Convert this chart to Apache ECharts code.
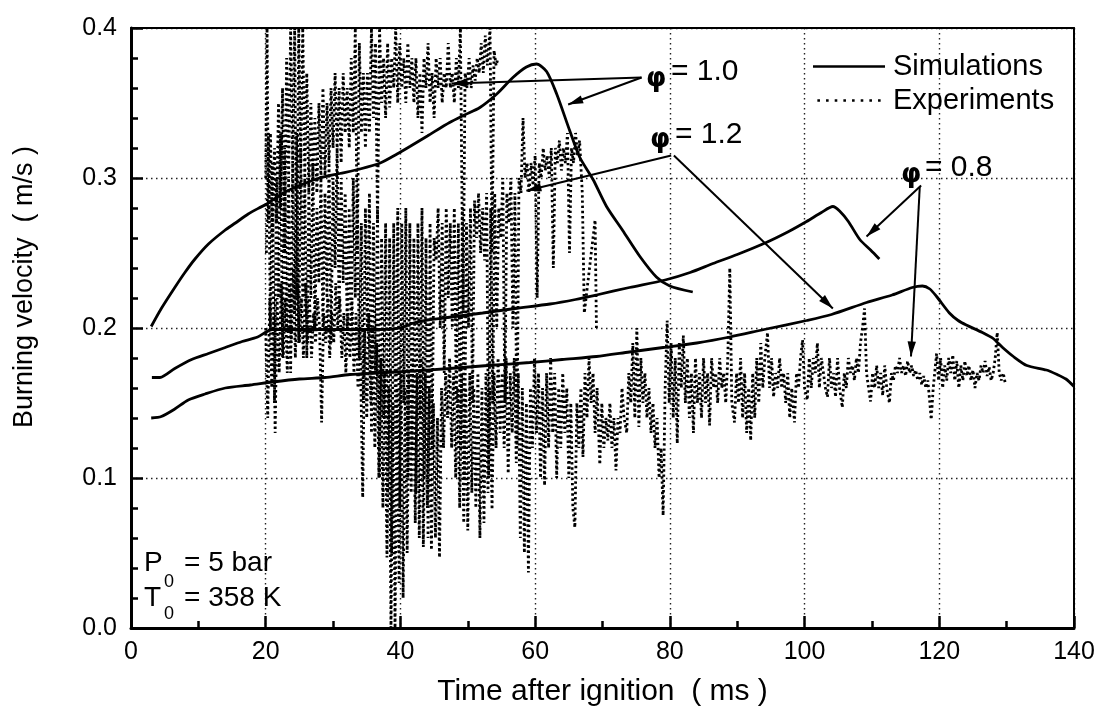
<!DOCTYPE html>
<html><head><meta charset="utf-8">
<script src="https://cdn.jsdelivr.net/npm/echarts@6/dist/echarts.min.js"></script>
<style>html,body{margin:0;padding:0;background:#fff}#c{width:1103px;height:712px}</style>
</head><body><div id="c"></div>
<script>
// ---- axis ranges / ticks ----
const xRange = [0, 140];
const xTickStep = 20;
const yRange = [0, 0.4];
const yTickStep = 0.1;
const xTitle = 'Time after ignition  ( ms )';
const yTitle = 'Burning velocity  ( m/s )';
const legendNames = ['Simulations', 'Experiments'];

// ---- simulations (solid) ----
const simPhi10 = [[3.0,0.201],[4.5,0.213],[6.5,0.227],[8.0,0.237],[9.5,0.246],[11.5,0.256],[13.9,0.265],[15.5,0.270],[17.4,0.276],[19.0,0.280],[20.3,0.283],[22.6,0.290],[25,0.295],[28,0.300],[31,0.303],[34,0.306],[37,0.310],[39.5,0.316],[41.4,0.321],[44,0.328],[47.3,0.337],[49.5,0.342],[51.8,0.347],[54.3,0.356],[56.7,0.367],[58.7,0.374],[60.2,0.376],[61.7,0.371],[63.2,0.356],[65.1,0.332],[66.6,0.314],[68.6,0.299],[70.6,0.281],[73.0,0.265],[75.5,0.248],[78.0,0.234],[80.0,0.228],[83.4,0.224]];
const simPhi08 = [[3.1,0.167],[4.3,0.167],[6.5,0.173],[9,0.179],[11.5,0.183],[14,0.187],[16.5,0.191],[18.8,0.194],[21,0.199],[25,0.199],[28.8,0.199],[33,0.199],[37,0.199],[39.9,0.200],[42.4,0.204],[47,0.207],[52.2,0.210],[57,0.213],[62.2,0.216],[66,0.219],[69.1,0.222],[74,0.227],[79.3,0.232],[83,0.237],[86.4,0.243],[90,0.249],[94.3,0.257],[97.5,0.264],[100.3,0.271],[102.5,0.277],[104.2,0.281],[105.2,0.278],[106.5,0.271],[108.2,0.259],[109.8,0.252],[111.1,0.246]];
const simPhi12 = [[3.0,0.140],[4.5,0.141],[6.5,0.146],[8.5,0.152],[11,0.156],[14,0.160],[17.7,0.162],[21,0.164],[25,0.166],[28.8,0.167],[32.5,0.169],[36.5,0.170],[40.7,0.171],[47.3,0.173],[53,0.175],[59.2,0.177],[64,0.179],[69.1,0.181],[74,0.184],[79,0.187],[84,0.190],[88.9,0.194],[94,0.199],[100.3,0.205],[104,0.209],[109.2,0.217],[113,0.222],[116,0.227],[117.5,0.228],[118.6,0.226],[119.6,0.221],[121.5,0.210],[122.8,0.205],[124,0.202],[126.4,0.197],[128,0.193],[129.4,0.187],[131,0.181],[133,0.175],[135.9,0.172],[137.5,0.169],[138.8,0.166],[140,0.161]];

// ---- experiments (dotted) ----
const expPhi10 = [[20.0,0.30],[20.2,0.40],[20.4,0.27],[20.7,0.33],[21.0,0.26],[21.3,0.32],[21.6,0.27],[21.9,0.35],[22.2,0.28],[22.5,0.36],[22.8,0.25],[23.1,0.38],[23.4,0.30],[23.7,0.40],[24.0,0.31],[24.3,0.40],[24.6,0.22],[24.9,0.40],[25.2,0.31],[25.5,0.40],[25.8,0.30],[26.1,0.37],[26.4,0.29],[26.7,0.35],[27.0,0.30],[27.3,0.34],[27.6,0.29],[27.9,0.35],[28.2,0.30],[28.5,0.36],[28.8,0.30],[29.1,0.35],[29.4,0.31],[29.7,0.36],[30.0,0.32],[30.3,0.37],[30.6,0.32],[30.9,0.36],[31.2,0.31],[31.5,0.37],[31.8,0.33],[32.1,0.36],[32.4,0.32],[32.7,0.38],[33.0,0.33],[33.3,0.40],[33.6,0.25],[33.9,0.39],[34.2,0.33],[34.5,0.37],[34.8,0.32],[35.1,0.37],[35.4,0.33],[35.7,0.40],[36.0,0.34],[36.3,0.39],[36.6,0.27],[36.9,0.40],[37.2,0.35],[37.5,0.38],[37.8,0.34],[38.1,0.39],[38.4,0.347],[38.7,0.38],[39.0,0.36],[39.3,0.40],[39.6,0.35],[39.9,0.39],[40.2,0.36],[40.5,0.38],[40.8,0.35],[41.1,0.39],[41.4,0.36],[41.7,0.38],[42.0,0.35],[42.3,0.38],[42.6,0.34],[42.9,0.37],[43.2,0.33],[43.5,0.38],[43.8,0.36],[44.1,0.39],[44.4,0.35],[44.7,0.37],[45.0,0.34],[45.3,0.38],[45.6,0.36],[45.9,0.38],[46.2,0.35],[46.5,0.37],[46.8,0.36],[47.1,0.39],[47.4,0.36],[47.7,0.37],[48.0,0.35],[48.3,0.38],[48.6,0.36],[48.9,0.40],[49.3,0.21],[49.6,0.37],[49.9,0.36],[50.2,0.38],[50.5,0.36],[50.8,0.375],[51.1,0.365],[51.4,0.38],[51.7,0.37],[52.0,0.39],[52.3,0.37],[52.6,0.395],[52.9,0.375],[53.3,0.40],[53.6,0.25],[53.9,0.385],[54.2,0.375],[54.5,0.38]];
const expPhi12 = [[20.1,0.25],[20.4,0.33],[20.7,0.20],[21.0,0.31],[21.3,0.15],[21.6,0.30],[21.9,0.22],[22.2,0.33],[22.5,0.18],[22.8,0.32],[23.1,0.20],[23.4,0.30],[23.7,0.17],[24.0,0.31],[24.3,0.21],[24.6,0.33],[24.9,0.19],[25.2,0.32],[25.5,0.22],[25.8,0.30],[26.1,0.18],[26.4,0.29],[26.7,0.22],[27.0,0.31],[27.3,0.20],[27.6,0.28],[27.9,0.23],[28.2,0.30],[28.5,0.20],[28.8,0.29],[29.1,0.22],[29.4,0.31],[29.7,0.19],[30.0,0.30],[30.3,0.24],[30.6,0.32],[30.9,0.21],[31.2,0.30],[31.5,0.23],[31.8,0.29],[32.1,0.20],[32.4,0.28],[32.7,0.19],[33.0,0.30],[33.3,0.22],[33.6,0.29],[33.9,0.18],[34.2,0.27],[34.5,0.15],[34.8,0.28],[35.1,0.20],[35.4,0.29],[35.7,0.13],[36.0,0.27],[36.3,0.17],[36.6,0.28],[36.9,0.10],[37.2,0.26],[37.5,0.14],[37.8,0.27],[38.1,0.09],[38.4,0.26],[38.7,0.05],[39.0,0.27],[39.3,0.12],[39.6,0.28],[39.9,0.08],[40.2,0.27],[40.5,0.15],[40.8,0.28],[41.1,0.10],[41.4,0.27],[41.7,0.12],[42.0,0.26],[42.3,0.09],[42.6,0.27],[42.9,0.14],[43.2,0.28],[43.5,0.10],[43.8,0.26],[44.1,0.06],[44.4,0.27],[44.7,0.12],[45.0,0.26],[45.3,0.245],[45.6,0.28],[45.9,0.20],[46.2,0.27],[46.5,0.17],[46.8,0.28],[47.1,0.22],[47.4,0.27],[47.7,0.20],[48.0,0.28],[48.3,0.15],[48.6,0.27],[48.9,0.12],[49.2,0.28],[49.5,0.10],[49.8,0.27],[50.1,0.20],[50.4,0.28],[50.7,0.15],[51.0,0.285],[51.3,0.26],[51.6,0.29],[51.9,0.25],[52.2,0.28],[52.5,0.245],[52.8,0.29],[53.1,0.10],[53.4,0.28],[53.7,0.15],[54.0,0.29],[54.3,0.20],[54.6,0.28],[54.9,0.26],[55.2,0.30],[55.5,0.15],[55.8,0.29],[56.1,0.27],[56.4,0.30],[56.7,0.20],[57.0,0.29],[57.3,0.12],[57.6,0.30],[57.9,0.29],[58.2,0.34],[58.5,0.30],[58.8,0.31],[59.1,0.29],[59.4,0.31],[59.7,0.295],[60.0,0.315],[60.3,0.22],[60.6,0.31],[60.9,0.30],[61.2,0.32],[61.5,0.305],[61.8,0.315],[62.1,0.30],[62.4,0.32],[62.7,0.24],[63.0,0.32],[63.3,0.31],[63.6,0.325],[63.9,0.305],[64.2,0.32],[64.5,0.31],[64.8,0.33],[65.1,0.25],[65.4,0.32],[65.7,0.31],[66.0,0.33],[66.3,0.315],[66.6,0.325],[67.0,0.29],[67.3,0.21],[68.9,0.272],[69.1,0.20]];
const expPhi08 = [[20.0,0.20],[20.3,0.14],[20.6,0.22],[20.9,0.16],[21.2,0.21],[21.4,0.13],[21.7,0.22],[22.0,0.17],[22.3,0.23],[22.6,0.18],[22.9,0.22],[23.2,0.17],[23.5,0.23],[23.8,0.19],[24.1,0.24],[24.4,0.18],[24.7,0.23],[25.0,0.19],[25.3,0.22],[25.6,0.18],[25.9,0.23],[26.2,0.19],[26.5,0.22],[26.8,0.18],[27.1,0.21],[27.4,0.19],[27.7,0.22],[28.0,0.20],[28.3,0.137],[28.6,0.21],[28.9,0.19],[29.2,0.22],[29.5,0.18],[29.8,0.21],[30.1,0.19],[30.4,0.23],[30.7,0.20],[31.0,0.22],[31.3,0.18],[31.6,0.21],[31.9,0.17],[32.2,0.21],[32.5,0.18],[32.8,0.22],[33.1,0.17],[33.4,0.21],[33.7,0.16],[34.0,0.20],[34.4,0.087],[34.7,0.20],[35.0,0.14],[35.3,0.21],[35.6,0.15],[35.9,0.20],[36.2,0.12],[36.5,0.19],[36.8,0.10],[37.1,0.18],[37.4,0.08],[37.7,0.17],[38.0,0.047],[38.3,0.16],[38.6,0.0],[38.9,0.15],[39.2,0.0],[39.5,0.16],[39.8,0.03],[40.1,0.17],[40.4,0.02],[40.7,0.16],[41.0,0.05],[41.3,0.17],[41.6,0.09],[41.9,0.18],[42.2,0.07],[42.5,0.17],[42.8,0.06],[43.1,0.18],[43.4,0.054],[43.7,0.17],[44.0,0.08],[44.3,0.16],[44.6,0.052],[44.9,0.15],[45.2,0.06],[45.5,0.14],[45.8,0.047],[46.1,0.16],[46.4,0.12],[46.7,0.17],[47.0,0.14],[47.3,0.18],[47.6,0.12],[47.9,0.17],[48.2,0.10],[48.5,0.16],[48.8,0.08],[49.1,0.17],[49.4,0.07],[49.7,0.16],[50.0,0.065],[50.3,0.17],[50.6,0.09],[50.9,0.16],[51.2,0.08],[51.5,0.17],[51.8,0.06],[52.1,0.16],[52.4,0.07],[52.7,0.17],[53.0,0.09],[53.3,0.16],[53.6,0.079],[53.9,0.17],[54.2,0.12],[54.5,0.18],[54.8,0.13],[55.1,0.17],[55.4,0.12],[55.7,0.18],[56.0,0.103],[56.3,0.17],[56.6,0.13],[56.9,0.18],[57.2,0.11],[57.5,0.17],[57.8,0.06],[58.1,0.16],[58.4,0.05],[58.7,0.15],[59.0,0.037],[59.3,0.16],[59.6,0.12],[59.9,0.18],[60.2,0.13],[60.5,0.17],[60.8,0.10],[61.1,0.16],[61.4,0.095],[61.7,0.17],[62.0,0.12],[62.3,0.18],[62.6,0.13],[62.9,0.17],[63.2,0.10],[63.5,0.16],[63.8,0.12],[64.1,0.17],[64.4,0.13],[64.7,0.16],[65.0,0.10],[65.3,0.15],[65.6,0.08],[65.9,0.067],[66.2,0.15],[66.5,0.12],[66.8,0.16],[67.1,0.114],[67.4,0.17],[67.7,0.14],[68.0,0.18],[68.3,0.15],[68.6,0.17],[68.9,0.13],[69.2,0.16],[69.6,0.109],[69.9,0.15],[70.2,0.12],[70.5,0.14],[70.8,0.125],[71.1,0.15],[71.4,0.12],[71.7,0.14],[72.0,0.105],[72.3,0.14],[72.6,0.13],[72.9,0.16],[73.2,0.14],[73.6,0.13],[73.9,0.17],[74.2,0.15],[74.5,0.19],[74.8,0.14],[75.1,0.20],[75.4,0.134],[75.7,0.18],[76.0,0.15],[76.3,0.17],[76.6,0.14],[76.9,0.16],[77.2,0.13],[77.5,0.15],[77.8,0.12],[78.1,0.14],[78.4,0.10],[78.7,0.12],[79.0,0.075],[79.3,0.16],[79.6,0.205],[79.9,0.15],[80.2,0.19],[80.5,0.14],[80.8,0.18],[81.1,0.123],[81.4,0.19],[81.7,0.16],[82.0,0.195],[82.3,0.15],[82.6,0.18],[82.9,0.14],[83.2,0.17],[83.5,0.13],[83.8,0.18],[84.1,0.15],[84.4,0.17],[84.7,0.14],[85.0,0.18],[85.3,0.15],[85.6,0.17],[85.9,0.135],[86.2,0.18],[86.5,0.16],[86.8,0.17],[87.1,0.15],[87.4,0.18],[87.7,0.16],[88.0,0.17],[88.3,0.15],[88.6,0.18],[88.9,0.24],[89.2,0.15],[89.6,0.137],[89.9,0.17],[90.2,0.15],[90.5,0.18],[90.8,0.14],[91.1,0.17],[91.4,0.13],[91.7,0.16],[92.0,0.125],[92.3,0.17],[92.6,0.14],[92.9,0.18],[93.2,0.15],[93.5,0.19],[93.8,0.16],[94.1,0.18],[94.5,0.197],[94.8,0.16],[95.1,0.18],[95.4,0.154],[95.7,0.17],[96.0,0.16],[96.3,0.18],[96.6,0.16],[96.9,0.17],[97.2,0.15],[97.5,0.17],[97.8,0.14],[98.1,0.16],[98.5,0.137],[98.8,0.17],[99.1,0.16],[99.4,0.18],[99.7,0.192],[100.0,0.16],[100.4,0.152],[100.7,0.18],[101.0,0.16],[101.3,0.18],[101.6,0.17],[101.9,0.19],[102.2,0.16],[102.5,0.18],[102.8,0.17],[103.1,0.16],[103.4,0.154],[103.7,0.18],[104.0,0.16],[104.3,0.17],[104.6,0.154],[104.9,0.18],[105.2,0.16],[105.6,0.147],[105.9,0.17],[106.2,0.16],[106.5,0.18],[106.8,0.17],[107.1,0.175],[107.4,0.165],[107.7,0.18],[108.0,0.17],[108.3,0.19],[108.6,0.20],[108.9,0.213],[109.2,0.17],[109.5,0.16],[109.8,0.151],[110.1,0.17],[110.4,0.16],[110.7,0.175],[111.0,0.16],[111.3,0.17],[111.6,0.155],[111.9,0.175],[112.2,0.16],[112.6,0.15],[112.9,0.17],[113.2,0.165],[113.5,0.175],[113.8,0.17],[114.1,0.18],[114.4,0.17],[114.7,0.175],[115.0,0.168],[115.3,0.178],[115.6,0.17],[115.9,0.175],[116.2,0.168],[116.5,0.172],[116.8,0.165],[117.1,0.17],[117.4,0.162],[117.7,0.168],[118.0,0.16],[118.3,0.165],[118.6,0.15],[118.8,0.139],[119.1,0.16],[119.6,0.183],[119.9,0.165],[120.2,0.18],[120.5,0.16],[120.8,0.175],[121.1,0.165],[121.4,0.18],[121.7,0.17],[122.0,0.182],[122.3,0.165],[122.6,0.178],[122.9,0.16],[123.2,0.175],[123.5,0.165],[123.8,0.178],[124.1,0.168],[124.4,0.175],[124.7,0.165],[125.0,0.172],[125.3,0.16],[125.6,0.17],[125.9,0.165],[126.2,0.175],[126.5,0.17],[126.8,0.178],[127.1,0.168],[127.4,0.174],[127.7,0.165],[128.0,0.17],[128.3,0.18],[128.6,0.197],[128.9,0.17],[129.2,0.165],[129.5,0.17],[129.8,0.163]];

// ---- annotation arrows (data coords: from label -> to target) ----
const arrowsPhi10 = [[[75.8,0.367],[47.6,0.363]],[[75.8,0.367],[64.9,0.349]]];
const arrowsPhi12 = [[[80.2,0.315],[58.7,0.2915]],[[80.6,0.315],[104.2,0.213]]];
const arrowsPhi08 = [[[117.3,0.295],[109.2,0.261]],[[117.1,0.294],[115.8,0.181]]];

const FONT = '"Liberation Sans", Arial, Helvetica, sans-serif';
const BLACK = '#000';

const chart = echarts.init(document.getElementById('c'), null, {renderer: 'canvas'});

const allArrows = [].concat(arrowsPhi10, arrowsPhi12, arrowsPhi08);
const arrowData = allArrows.map(a => [{coord: a[0]}, {coord: a[1]}]);

const simStyle = {color: BLACK, width: 2.8};
const expStyle = {color: BLACK, width: 2.8, type: [2.4, 2.8]};

function simSeries(data, extra) {
  return Object.assign({type: 'line', name: 'Simulations', data: data, symbol: 'none', smooth: 0.25, lineStyle: simStyle, itemStyle: {color: BLACK}, z: 5, silent: true}, extra || {});
}
function expSeries(data) {
  return {type: 'line', name: 'Experiments', data: data, symbol: 'none', smooth: false, lineStyle: expStyle, itemStyle: {color: BLACK}, z: 3, silent: true};
}

function txt(x, y, text, size, align, family, weight) {
  return {type: 'text', x: x, y: y, silent: true, z: 100,
    style: {text: text, fill: BLACK, font: (weight || 'normal') + ' ' + size + 'px ' + (family || FONT), align: align || 'left', verticalAlign: 'middle'}};
}

const dotIcon = 'path://M0,0h3v3h-3z M10,0h3v3h-3z M20,0h3v3h-3z M30,0h3v3h-3z M40,0h3v3h-3z M50,0h3v3h-3z M60,0h3v3h-3z M70,0h3v3h-3z';

const graphics = [
  // y axis title
  {type: 'text', x: 25, y: 287, rotation: Math.PI / 2, silent: true,
   style: {text: yTitle, fill: BLACK, font: '27px ' + FONT, align: 'center', verticalAlign: 'middle'}},
  // phi labels
  txt(646, 79, 'φ', 26, 'left', '"DejaVu Sans"', 'bold'), txt(671, 72, '= 1.0', 30),
  txt(650, 140, 'φ', 26, 'left', '"DejaVu Sans"', 'bold'), txt(675, 135, '= 1.2', 30),
  txt(901, 175, 'φ', 26, 'left', '"DejaVu Sans"', 'bold'), txt(925, 168, '= 0.8', 30),
  // initial conditions
  txt(144, 563, 'P', 28), txt(164, 582, '0', 18), txt(184, 563, '= 5 bar', 28),
  txt(144, 598, 'T', 28), txt(164, 614, '0', 18), txt(184, 598, '= 358 K', 28)
];

const option = {
  animation: false,
  backgroundColor: '#fff',
  grid: {left: 131, right: 29, top: 28, bottom: 84},
  legend: {
    show: true, orient: 'vertical', left: 808, top: 47, itemWidth: 72, itemHeight: 2.6, itemGap: 5,
    selectedMode: false,
    data: [{name: legendNames[0], icon: 'rect'}, {name: legendNames[1], icon: dotIcon}],
    itemStyle: {color: BLACK},
    textStyle: {fontSize: 29, fontFamily: FONT, color: BLACK, padding: [0, 0, 0, 3]}
  },
  xAxis: [{
    type: 'value', min: xRange[0], max: xRange[1], interval: xTickStep, position: 'bottom',
    name: xTitle, nameLocation: 'middle', nameGap: 49,
    nameTextStyle: {fontSize: 30, fontFamily: FONT, color: BLACK},
    axisLine: {show: true, onZero: false, lineStyle: {color: BLACK, width: 3}},
    axisTick: {show: true, inside: true, length: 12, lineStyle: {color: BLACK, width: 2.5}},
    minorTick: {show: true, splitNumber: 2, length: 7, lineStyle: {color: BLACK, width: 2.5}},
    axisLabel: {fontSize: 25, fontFamily: FONT, color: BLACK, margin: 12},
    splitLine: {show: true, lineStyle: {color: '#222', width: 1.4, type: [1.5, 3.5]}}
  }, {
    type: 'value', min: xRange[0], max: xRange[1], position: 'top',
    axisLine: {show: true, onZero: false, lineStyle: {color: BLACK, width: 2}},
    axisTick: {show: false}, axisLabel: {show: false}, splitLine: {show: false}
  }],
  yAxis: [{
    type: 'value', min: yRange[0], max: yRange[1], interval: yTickStep, position: 'left',
    axisLine: {show: true, onZero: false, lineStyle: {color: BLACK, width: 3}},
    axisTick: {show: true, inside: true, length: 12, lineStyle: {color: BLACK, width: 2.5}},
    minorTick: {show: true, splitNumber: 5, length: 7, lineStyle: {color: BLACK, width: 2.5}},
    axisLabel: {fontSize: 25, fontFamily: FONT, color: BLACK, margin: 14, formatter: v => v.toFixed(1)},
    splitLine: {show: true, lineStyle: {color: '#222', width: 1.4, type: [1.5, 3.5]}}
  }, {
    type: 'value', min: yRange[0], max: yRange[1], position: 'right',
    axisLine: {show: true, onZero: false, lineStyle: {color: BLACK, width: 2}},
    axisTick: {show: false}, axisLabel: {show: false}, splitLine: {show: false}
  }],
  series: [
    expSeries(expPhi08),
    expSeries(expPhi12),
    expSeries(expPhi10),
    simSeries(simPhi12),
    simSeries(simPhi08),
    simSeries(simPhi10, {
      markLine: {
        silent: true, symbol: ['none', 'none'], precision: 4,
        label: {show: false}, emphasis: {disabled: true},
        lineStyle: {color: BLACK, width: 2, type: 'solid'},
        data: arrowData
      }
    })
  ],
  graphic: graphics
};
chart.setOption(option);

// arrowheads, placed through the chart's own coordinate conversion
const heads = allArrows.map((a, i) => {
  const p0 = chart.convertToPixel({gridIndex: 0}, a[0]);
  const p1 = chart.convertToPixel({gridIndex: 0}, a[1]);
  const dx = p1[0] - p0[0], dy = p1[1] - p0[1], L = Math.hypot(dx, dy);
  const ux = dx / L, uy = dy / L, nx = -uy, ny = ux;
  const len = 15, half = 4.2;
  const bx = p1[0] - ux * len, by = p1[1] - uy * len;
  return {type: 'polygon', silent: true, z: 100,
    shape: {points: [[p1[0], p1[1]], [bx + nx * half, by + ny * half], [bx - nx * half, by - ny * half]]},
    style: {fill: BLACK}};
});
chart.setOption({graphic: graphics.concat(heads)});
</script>
</body></html>
